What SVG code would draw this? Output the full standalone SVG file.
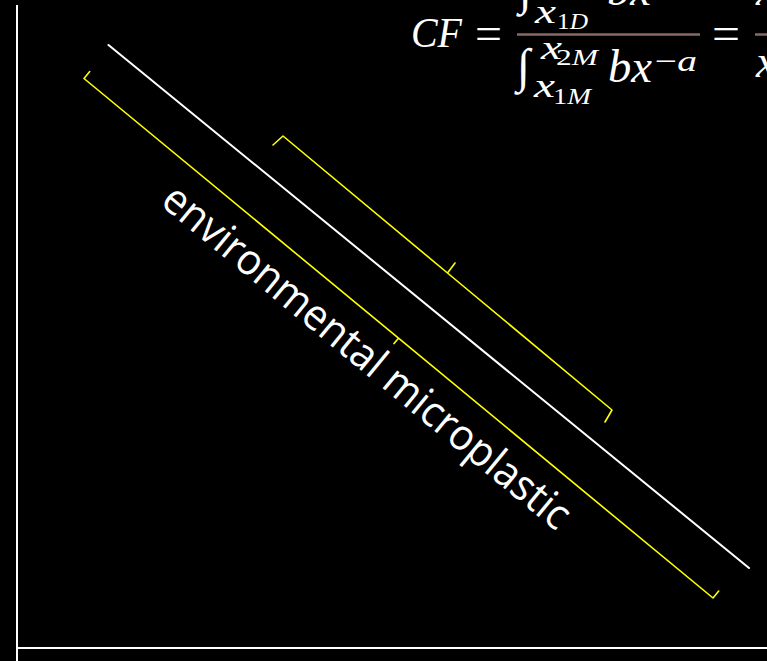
<svg xmlns="http://www.w3.org/2000/svg" width="767" height="661" viewBox="0 0 767 661">
  <style>
    .axis { stroke: #ffffff; stroke-width: 2; fill: none; }
    .trend { stroke: #ffffff; stroke-width: 2; fill: none; stroke-linecap: round; }
    .brace { stroke: #ffff00; stroke-width: 1.6; fill: none; stroke-linejoin: round; stroke-linecap: round; }
    .math { font-family: "Liberation Serif", "DejaVu Serif", serif; font-style: italic; fill: #ffffff; }
    .op { font-family: "Liberation Serif", "DejaVu Serif", serif; font-style: normal; fill: #ffffff; }
    .label { font-family: "Open Sans", "Noto Sans", sans-serif; fill: #ffffff; }
  </style>
  <rect x="0" y="0" width="767" height="661" fill="#000000"/>

  <g id="axes">
    <line class="axis" x1="17" y1="5" x2="17" y2="661"/>
    <line class="axis" x1="17" y1="648" x2="767" y2="648"/>
  </g>

  <g id="connectors">
    <line class="trend" x1="108.5" y1="45" x2="749" y2="568"/>
  </g>

  <g id="brace-lower">
    <path class="brace" d="M 89.7 71.6 L 84 78.5 L 398.5 338.2 L 394 343.6 M 398.5 338.2 L 713 598 L 718.7 591"/>
  </g>

  <g id="brace-upper">
    <path class="brace" d="M 273 145 L 283 136 L 447.5 273 L 455 263 M 447.5 273 L 612 410 L 605 422"/>
  </g>

  <g id="label-environmental">
    <text class="label" font-size="43" transform="translate(159,204) rotate(39.5)" x="0" y="0" textLength="515" lengthAdjust="spacingAndGlyphs">environmental microplastic</text>
  </g>

  <g id="formula">
    <text class="math" font-size="42" x="411" y="47" textLength="51" lengthAdjust="spacingAndGlyphs">CF</text>
    <text class="op" font-size="46" x="475" y="49" textLength="27" lengthAdjust="spacingAndGlyphs">=</text>
    <line x1="517" y1="34.5" x2="700" y2="34.5" stroke="#8a6a62" stroke-width="2.5"/>
    <!-- numerator (cut off at top) -->
    <text class="op" font-size="48" x="519" y="4">∫</text>
    <text class="math" font-size="34" x="535" y="23" textLength="21" lengthAdjust="spacingAndGlyphs">x</text>
    <text class="op" font-size="24" x="557" y="29" textLength="31" lengthAdjust="spacingAndGlyphs">1<tspan class="math">D</tspan></text>
    <text class="math" font-size="46" x="607" y="5" textLength="44" lengthAdjust="spacingAndGlyphs">bx</text>
    <!-- denominator -->
    <text class="op" font-size="48" x="517" y="82">∫</text>
    <text class="math" font-size="34" x="541" y="59" textLength="21" lengthAdjust="spacingAndGlyphs">x</text>
    <text class="op" font-size="24" x="556" y="65" textLength="42" lengthAdjust="spacingAndGlyphs">2<tspan class="math">M</tspan></text>
    <text class="math" font-size="46" x="608" y="82" textLength="44" lengthAdjust="spacingAndGlyphs">bx</text>
    <text class="op" font-size="30" x="655" y="71" textLength="42" lengthAdjust="spacingAndGlyphs">−<tspan class="math">a</tspan></text>
    <text class="math" font-size="34" x="534" y="97" textLength="21" lengthAdjust="spacingAndGlyphs">x</text>
    <text class="op" font-size="24" x="553" y="104" textLength="38" lengthAdjust="spacingAndGlyphs">1<tspan class="math">M</tspan></text>
    <text class="op" font-size="46" x="712" y="49" textLength="28" lengthAdjust="spacingAndGlyphs">=</text>
    <line x1="755" y1="34.5" x2="767" y2="34.5" stroke="#8a6a62" stroke-width="2.5"/>
    <text class="math" font-size="46" x="756" y="5">x</text>
    <text class="math" font-size="46" x="756" y="77">x</text>
  </g>
</svg>
